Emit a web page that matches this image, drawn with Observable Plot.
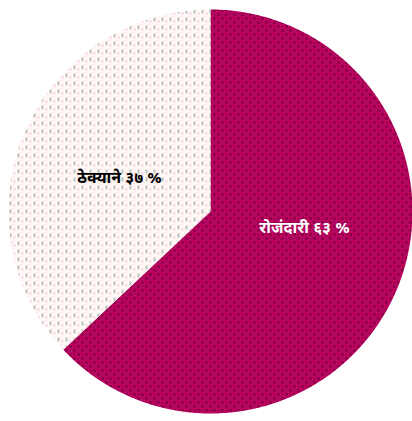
<!DOCTYPE html>
<html>
<head>
<meta charset="utf-8">
<script src="https://cdn.jsdelivr.net/npm/d3@7"></script>
<script src="https://cdn.jsdelivr.net/npm/@observablehq/plot@0.6"></script>
<style>
  html, body { margin: 0; padding: 0; background: #ffffff; }
  #chart { width: 412px; height: 421px; }
</style>
</head>
<body>
<div id="chart"></div>
<script>
// Data
const categories = ["रोजंदारी", "ठेक्याने"];
const values = [63, 37];
const labels = ["रोजंदारी ६३ %", "ठेक्याने ३७ %"];
const patterns = ["url(#patDark)", "url(#patLight)"];
const textColors = ["#ffffff", "#000000"];
const labelDx = [5, -2];
const labelDy = [-22, 5];

// Pie geometry (start at 12 o'clock, clockwise)
const arcs = d3.pie().sort(null).value(d => d)(values);
const polys = [];
arcs.forEach((a, i) => {
  const step = Math.PI / 360;
  polys.push({slice: i, x: 0, y: 0});
  for (let t = a.startAngle; t < a.endAngle; t += step) {
    polys.push({slice: i, x: Math.sin(t), y: Math.cos(t)});
  }
  polys.push({slice: i, x: Math.sin(a.endAngle), y: Math.cos(a.endAngle)});
  polys.push({slice: i, x: 0, y: 0});
});
const labelData = arcs.map((a, i) => {
  const m = (a.startAngle + a.endAngle) / 2;
  return {label: labels[i], x: 0.48 * Math.sin(m), y: 0.48 * Math.cos(m), i};
});

const marks = [];
arcs.forEach((a, i) => {
  marks.push(Plot.line(polys, {
    filter: d => d.slice === i,
    x: "x", y: "y",
    fill: patterns[i], stroke: "none", curve: "linear"
  }));
});
labelData.forEach(d => {
  marks.push(Plot.text([d], {
    x: "x", y: "y", text: "label",
    fill: textColors[d.i], dx: labelDx[d.i], dy: labelDy[d.i],
    fontSize: 16, fontWeight: "bold",
    fontFamily: "'Noto Sans Devanagari', 'Lohit Devanagari', 'Mukta', sans-serif"
  }));
});

const chart = Plot.plot({
  width: 412, height: 421,
  marginLeft: 8, marginRight: 0, marginTop: 9, marginBottom: 8,
  x: {domain: [-1, 1], axis: null},
  y: {domain: [-1, 1], axis: null},
  style: {background: "#ffffff", overflow: "visible"},
  marks
});

const ns = "http://www.w3.org/2000/svg";
const defs = document.createElementNS(ns, "defs");
defs.innerHTML = `
  <pattern id="patDark" width="8" height="8" patternUnits="userSpaceOnUse">
    <rect width="8" height="8" fill="#94004e"/>
    <rect x="0" y="0" width="4" height="4" fill="#e2086e"/>
    <rect x="4" y="4" width="4" height="4" fill="#e2086e"/>
    <rect x="1" y="1" width="2" height="2" fill="#76003a"/>
    <rect x="5" y="5" width="2" height="2" fill="#760a58"/>
  </pattern>
  <pattern id="patLight" width="8" height="8" patternUnits="userSpaceOnUse">
    <rect width="8" height="8" fill="#fff8f4"/>
    <rect x="1" y="1" width="2" height="4" fill="#b8c2c2"/>
    <rect x="5" y="4" width="2" height="2" fill="#f9c8e2"/>
    <rect x="4" y="0" width="1" height="1" fill="#f6d2e6"/>
  </pattern>`;
chart.insertBefore(defs, chart.firstChild);
document.getElementById("chart").appendChild(chart);
</script>
</body>
</html>
